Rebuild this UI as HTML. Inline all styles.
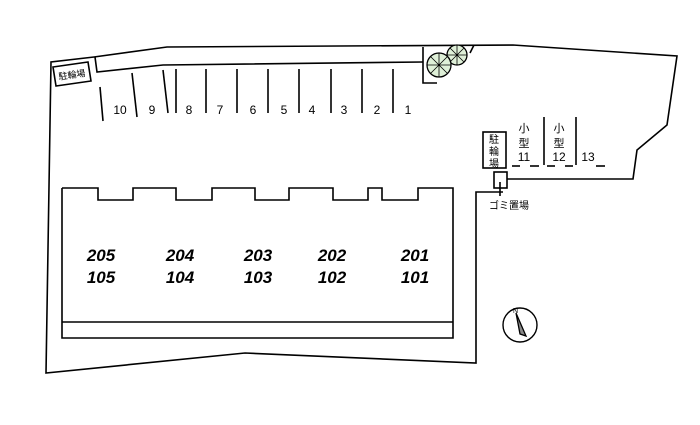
<!DOCTYPE html>
<html><head><meta charset="utf-8"><style>
html,body{margin:0;padding:0;background:#fff;}
svg text{font-family:"Liberation Sans","Noto Sans CJK JP",sans-serif;}
</style></head><body>
<svg width="700" height="420" viewBox="0 0 700 420" xmlns="http://www.w3.org/2000/svg">
<g fill="none" stroke="#000" stroke-width="1.6">
<polyline points="507,179 633,179 637,150 667,125 677,56 513,45 167,47 94,57 51,62 46,373 245,353 476,363 476,192 503,192"/>
<rect x="494" y="172" width="13" height="16"/>
<line x1="500" y1="182" x2="500" y2="196"/>
<polyline points="95,57 97,72 163,65 423,62"/>
<polyline points="423,47 423,83 437,83"/>
<polyline points="474,45 470,53"/>
<polyline points="62,188 98,188 98,200 133,200 133,188 176,188 176,200 212,200 212,188 255,188 255,200 289,200 289,188 333,188 333,200 368,200 368,188 382,188 382,200 418,200 418,188 453,188 453,338 62,338 62,188"/>
<line x1="62" y1="322" x2="453" y2="322"/>
<line x1="100" y1="87" x2="103" y2="121"/>
<line x1="132" y1="73" x2="137" y2="117"/>
<line x1="163" y1="70" x2="168" y2="113"/>
<line x1="176" y1="69" x2="176" y2="113"/>
<line x1="206" y1="69" x2="206" y2="113"/>
<line x1="237" y1="69" x2="237" y2="113"/>
<line x1="268" y1="69" x2="268" y2="113"/>
<line x1="299" y1="69" x2="299" y2="113"/>
<line x1="331" y1="69" x2="331" y2="113"/>
<line x1="362" y1="69" x2="362" y2="113"/>
<line x1="393" y1="69" x2="393" y2="113"/>
<polygon points="53,67 88,62 91,81 56,86"/>
<rect x="483" y="132" width="23" height="36"/>
<line x1="544" y1="117" x2="544" y2="165"/>
<line x1="576" y1="117" x2="576" y2="165"/>
<line x1="512" y1="166" x2="520" y2="166"/><line x1="530" y1="166" x2="539" y2="166"/>
<line x1="547" y1="166" x2="555" y2="166"/><line x1="565" y1="166" x2="573" y2="166"/>
<line x1="596" y1="166" x2="605" y2="166"/>
<circle cx="520" cy="325" r="17" stroke-width="1.4"/>
</g>
<g stroke="#000" stroke-width="1.3">
<circle cx="457" cy="55" r="10" fill="#dff0d8"/>
<circle cx="439" cy="65" r="12" fill="#dff0d8"/>
<path d="M457 45V65M447 55H467M450 48L464 62M464 48L450 62M439 53V77M427 65H451M431 57L447 73M447 57L431 73" stroke-width="0.8"/>
<polygon points="516,313 526,336 520,334" fill="#888"/>
</g>
<text x="513" y="313" font-size="7">N</text>
<g font-size="12" text-anchor="middle" fill="#000">
<text x="120" y="114">10</text><text x="152" y="114">9</text><text x="189" y="114">8</text>
<text x="220" y="114">7</text><text x="253" y="114">6</text><text x="284" y="114">5</text>
<text x="312" y="114">4</text><text x="344" y="114">3</text><text x="377" y="114">2</text>
<text x="408" y="114">1</text>
<text x="524" y="161">11</text><text x="559" y="161">12</text><text x="588" y="161">13</text>
<text x="524" y="132" font-size="11">小</text><text x="524" y="147" font-size="11">型</text>
<text x="559" y="132" font-size="11">小</text><text x="559" y="147" font-size="11">型</text>
<text x="494" y="143" font-size="10">駐</text><text x="494" y="155" font-size="10">輪</text><text x="494" y="167" font-size="10">場</text>
<text x="509" y="209" font-size="10">ゴミ置場</text>
<text x="72" y="78" font-size="9" transform="rotate(-8 72 75)">駐輪場</text>
</g>
<g font-size="17" font-weight="bold" font-style="italic" text-anchor="middle" fill="#000">
<text x="101" y="261">205</text><text x="101" y="283">105</text>
<text x="180" y="261">204</text><text x="180" y="283">104</text>
<text x="258" y="261">203</text><text x="258" y="283">103</text>
<text x="332" y="261">202</text><text x="332" y="283">102</text>
<text x="415" y="261">201</text><text x="415" y="283">101</text>
</g>
</svg>
</body></html>
